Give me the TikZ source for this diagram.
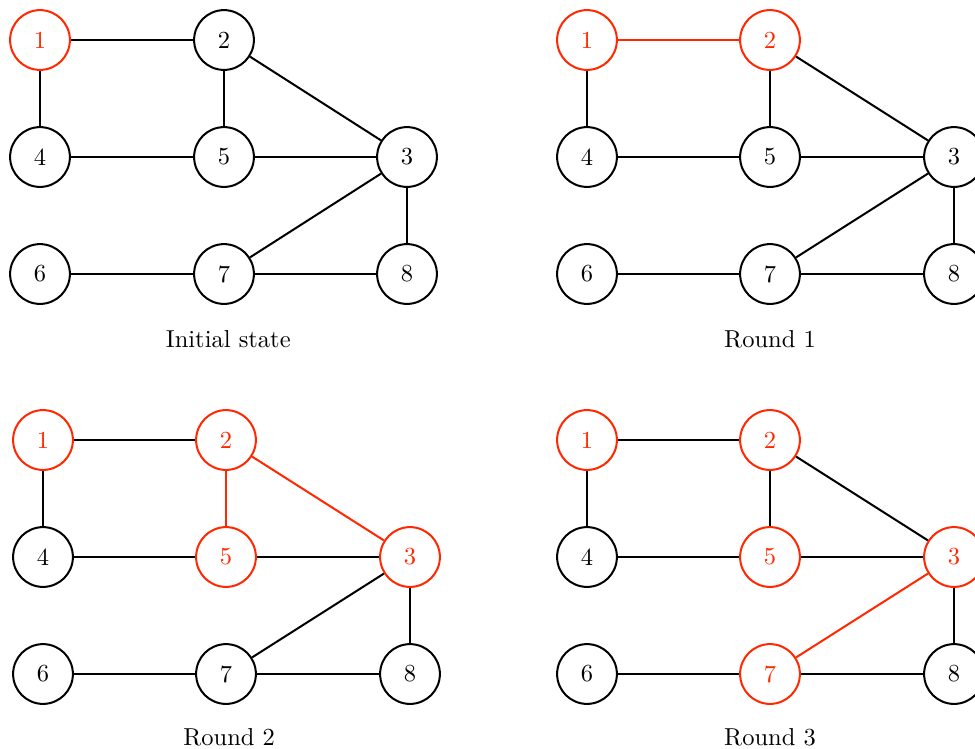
\documentclass[tikz,border=0pt]{standalone}
\definecolor{hl}{RGB}{255,40,0}
\begin{document}
\begin{tikzpicture}[x=0.40816pt,y=-0.40816pt,
  vtx/.style={circle,draw=black,line width=0.82pt,minimum size=24.4pt,inner sep=0pt,text=black},
  vtxr/.style={vtx,draw=hl,text=hl},
  edge/.style={draw=black,line width=0.82pt},
  edger/.style={draw=hl,line width=0.82pt},
  captext/.style={anchor=base,inner sep=0pt}]
\useasboundingbox (0,0) rectangle (975,749);

% ---------- Initial state ----------
\begin{scope}[shift={(40,40)}]
\node[vtxr] (a1) at (0,0) {1};
\node[vtx] (a2) at (184,0) {2};
\node[vtx] (a4) at (0,117) {4};
\node[vtx] (a5) at (184,117) {5};
\node[vtx] (a3) at (367,117) {3};
\node[vtx] (a6) at (0,234) {6};
\node[vtx] (a7) at (184,234) {7};
\node[vtx] (a8) at (367,234) {8};
\end{scope}
\draw[edge] (a1) -- (a2);
\draw[edge] (a1) -- (a4);
\draw[edge] (a2) -- (a5);
\draw[edge] (a2) -- (a3);
\draw[edge] (a4) -- (a5);
\draw[edge] (a5) -- (a3);
\draw[edge] (a3) -- (a7);
\draw[edge] (a3) -- (a8);
\draw[edge] (a6) -- (a7);
\draw[edge] (a7) -- (a8);
\node[captext] (capa) at (228.3,347.5) {Initial state};

% ---------- Round 1 ----------
\begin{scope}[shift={(587,40)}]
\node[vtxr] (b1) at (0,0) {1};
\node[vtxr] (b2) at (183,0) {2};
\node[vtx] (b4) at (0,117) {4};
\node[vtx] (b5) at (183,117) {5};
\node[vtx] (b3) at (367,117) {3};
\node[vtx] (b6) at (0,234) {6};
\node[vtx] (b7) at (183,234) {7};
\node[vtx] (b8) at (367,234) {8};
\end{scope}
\draw[edger] (b1) -- (b2);
\draw[edge] (b1) -- (b4);
\draw[edge] (b2) -- (b5);
\draw[edge] (b2) -- (b3);
\draw[edge] (b4) -- (b5);
\draw[edge] (b5) -- (b3);
\draw[edge] (b3) -- (b7);
\draw[edge] (b3) -- (b8);
\draw[edge] (b6) -- (b7);
\draw[edge] (b7) -- (b8);
\node[captext] (capb) at (770,347.5) {Round 1};

% ---------- Round 2 ----------
\begin{scope}[shift={(43,440)}]
\node[vtxr] (c1) at (0,0) {1};
\node[vtxr] (c2) at (183,0) {2};
\node[vtx] (c4) at (0,117) {4};
\node[vtxr] (c5) at (183,117) {5};
\node[vtxr] (c3) at (367,117) {3};
\node[vtx] (c6) at (0,234) {6};
\node[vtx] (c7) at (183,234) {7};
\node[vtx] (c8) at (367,234) {8};
\end{scope}
\draw[edge] (c1) -- (c2);
\draw[edge] (c1) -- (c4);
\draw[edge] (c4) -- (c5);
\draw[edge] (c5) -- (c3);
\draw[edge] (c3) -- (c7);
\draw[edge] (c3) -- (c8);
\draw[edge] (c6) -- (c7);
\draw[edge] (c7) -- (c8);
\draw[edger] (c2) -- (c5);
\draw[edger] (c2) -- (c3);
\node[captext] (capc) at (229.2,745) {Round 2};

% ---------- Round 3 ----------
\begin{scope}[shift={(587,440)}]
\node[vtxr] (d1) at (0,0) {1};
\node[vtxr] (d2) at (183,0) {2};
\node[vtx] (d4) at (0,117) {4};
\node[vtxr] (d5) at (183,117) {5};
\node[vtxr] (d3) at (367,117) {3};
\node[vtx] (d6) at (0,234) {6};
\node[vtxr] (d7) at (183,234) {7};
\node[vtx] (d8) at (367,234) {8};
\end{scope}
\draw[edge] (d1) -- (d2);
\draw[edge] (d1) -- (d4);
\draw[edge] (d2) -- (d5);
\draw[edge] (d2) -- (d3);
\draw[edge] (d4) -- (d5);
\draw[edge] (d5) -- (d3);
\draw[edge] (d3) -- (d8);
\draw[edge] (d6) -- (d7);
\draw[edge] (d7) -- (d8);
\draw[edger] (d3) -- (d7);
\node[captext] (capd) at (770,745) {Round 3};
\end{tikzpicture}
\end{document}
